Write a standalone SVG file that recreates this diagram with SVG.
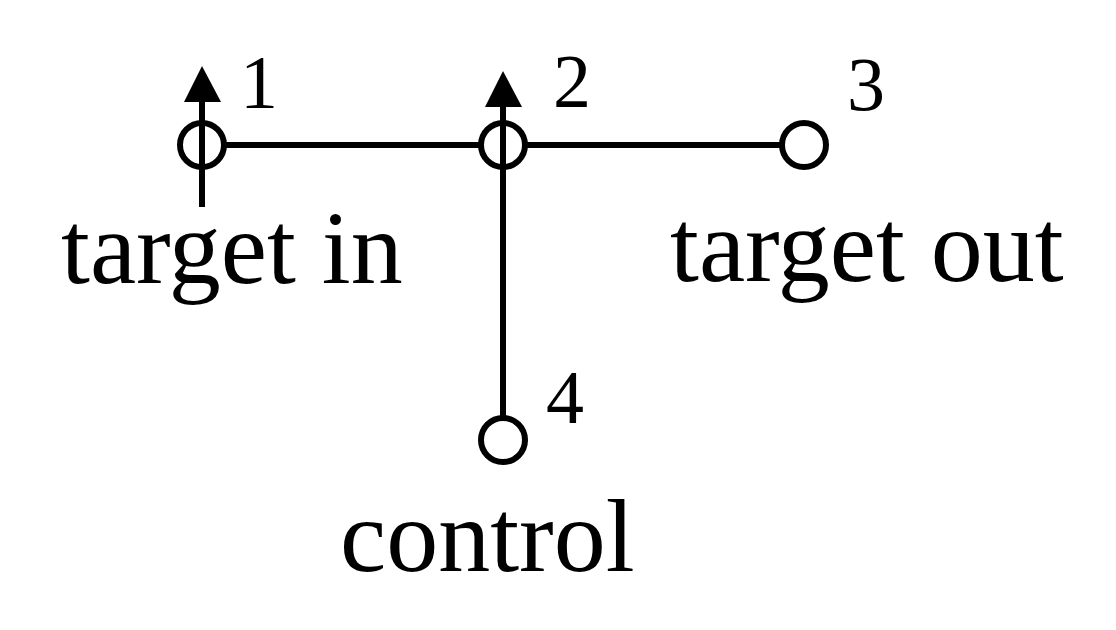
<svg xmlns="http://www.w3.org/2000/svg" width="1116" height="630" viewBox="0 0 1116 630">
<style>
.ln{stroke:#000;stroke-width:6;fill:none}
.port{stroke:#000;stroke-width:6;fill:#fff}
.ah{fill:#000}
.lbl{font-family:"Liberation Serif","Times New Roman",serif;font-size:104px;fill:#000}
.num{font-family:"Liberation Serif","Times New Roman",serif;font-size:76px;fill:#000}
</style>
<rect width="1116" height="630" fill="#fff"/>
<g id="connectors">
<line class="ln" x1="202" y1="145" x2="804" y2="145"/>
<line class="ln" x1="503" y1="100" x2="503" y2="440"/>
<line class="ln" x1="202" y1="96" x2="202" y2="207"/>
<polygon class="ah" points="202,66 184,102 221,102"/>
<polygon class="ah" points="503,71 485,107 522,107"/>
</g>
<g id="port1">
<circle class="port" cx="202" cy="145" r="22"/>
<line class="ln" x1="202" y1="120" x2="202" y2="170"/>
<text class="num" x="240" y="108">1</text>
</g>
<g id="port2">
<circle class="port" cx="503" cy="145" r="22"/>
<line class="ln" x1="503" y1="120" x2="503" y2="170"/>
<text class="num" x="553" y="107">2</text>
</g>
<g id="port3">
<circle class="port" cx="804" cy="145" r="22"/>
<text class="num" x="847" y="110">3</text>
</g>
<g id="port4">
<circle class="port" cx="503" cy="440" r="22"/>
<text class="num" x="546" y="423">4</text>
</g>
<g id="labels">
<text class="lbl" x="61" y="283">target in</text>
<text class="lbl" x="670" y="281">target out</text>
<text class="lbl" x="340" y="571">control</text>
</g>
</svg>
